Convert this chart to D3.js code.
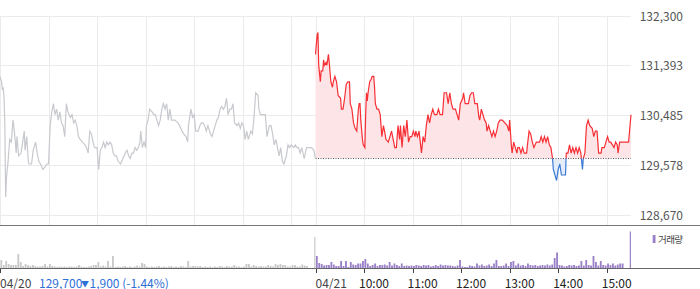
<!DOCTYPE html>
<html>
<head>
<meta charset="utf-8">
<script src="https://cdn.jsdelivr.net/npm/d3@7"></script>
<style>
  body { margin: 0; background: #fff; }
  svg { display: block; font-family: "Noto Sans CJK KR", "Noto Sans", sans-serif; }
</style>
</head>
<body>
<div id="chart"></div>
<script>
// minutes after 09:00 for each day, and prices
const prevTimes = [
  0, 2, 3, 4, 5, 6, 7, 8, 10, 12,
  14, 16, 17, 19, 20, 21, 23, 26, 28, 30,
  31, 33, 35, 36, 39, 41, 43, 44, 46, 48,
  50, 53, 56, 58, 60, 62, 64, 66, 68, 70,
  72, 74, 76, 78, 80, 82, 84, 87, 89, 91,
  93, 95, 97, 99, 102, 105, 107, 109, 111, 113,
  115, 117, 120, 122, 124, 126, 128, 130, 132, 134,
  136, 138, 140, 142, 144, 146, 149, 152, 155, 157,
  159, 161, 163, 165, 167, 169, 171, 173, 174, 176,
  178, 180, 181, 183, 185, 188, 190, 192, 194, 196,
  198, 200, 202, 204, 206, 208, 210, 212, 216, 220,
  222, 225, 227, 230, 232, 233, 235, 236, 238, 240,
  242, 245, 247, 249, 251, 253, 255, 257, 260, 262,
  264, 266, 268, 270, 272, 274, 276, 278, 280, 282,
  284, 286, 288, 290, 293, 295, 297, 299, 301, 303,
  305, 307, 310, 312, 314, 316, 319, 320, 322, 325,
  328, 330, 333, 335, 337, 339, 341, 343, 345, 347,
  349, 351, 354, 356, 358, 360, 363, 365, 367, 369,
  371, 373, 376, 379, 385, 388, 390,
];
const prevPrices = [
  131200, 131100, 130950, 131000, 130800, 130300, 129000, 129350, 129650, 130050,
  130000, 130400, 130300, 130000, 129800, 130100, 129750, 129800, 130000, 130200,
  129850, 130100, 129650, 129600, 129600, 129850, 129950, 130000, 129800, 129650,
  129600, 129500, 129550, 129600, 129600, 130300, 130550, 130700, 130500, 130600,
  130400, 130550, 130350, 130300, 130100, 130700, 130550, 130450, 130500, 130350,
  130400, 130300, 130100, 130050, 130000, 129950, 129900, 129800, 130200, 130150,
  130000, 129900, 129900, 129500, 129850, 129900, 130000, 129900, 130000, 129950,
  130000, 129950, 129800, 129750, 129750, 129650, 129600, 129700, 129800, 129850,
  129750, 129700, 129800, 129800, 129900, 129850, 129900, 130000, 130200, 129900,
  130000, 129900, 130300, 130400, 130600, 130550, 130500, 130500, 130400, 130300,
  130400, 130600, 130700, 130600, 130700, 130400, 130600, 130400, 130400, 130350,
  130300, 130200, 130150, 130100, 130000, 130300, 130500, 130600, 130450, 130500,
  130200, 130200, 130300, 130350, 130350, 130300, 130200, 130300, 130150, 130100,
  130200, 130300, 130400, 130450, 130600, 130650, 130600, 130650, 130800, 130500,
  130600, 130600, 130700, 130350, 130300, 130350, 130250, 130350, 130300, 130050,
  130200, 130050, 130200, 130150, 130450, 130900, 130850, 130600, 130500, 130500,
  130500, 130100, 130300, 130300, 130150, 129950, 130050, 129900, 129750, 129900,
  129650, 129600, 129750, 129950, 129900, 129950, 129900, 129950, 129900, 129900,
  129800, 129900, 129700, 129900, 129900, 129850, 129700,
];
const todayTimes = [
  0, 2, 3, 4, 6, 7, 9, 10, 11, 13,
  14, 16, 17, 19, 21, 22, 24, 26, 28, 31,
  32, 34, 36, 38, 40, 42, 43, 45, 47, 49,
  51, 53, 54, 55, 56, 58, 59, 61, 62, 63,
  64, 65, 67, 69, 70, 72, 73, 74, 76, 78,
  80, 81, 82, 84, 86, 87, 90, 92, 94, 96,
  98, 100, 102, 104, 105, 107, 109, 111, 113, 115,
  117, 119, 121, 123, 124, 126, 128, 131, 133, 135,
  137, 139, 141, 143, 145, 147, 150, 152, 154, 157,
  159, 162, 164, 166, 168, 170, 173, 175, 177, 179,
  182, 183, 185, 186, 189, 191, 193, 195, 197, 200,
  202, 203, 205, 207, 209, 211, 212, 214, 216, 218,
  220, 222, 224, 226, 228, 231, 234, 237, 239, 240,
  242, 243, 245, 247, 249, 250, 252, 254, 256, 258,
  261, 262, 264, 266, 268, 270, 273, 275, 277, 279,
  281, 283, 285, 287, 289, 291, 293, 294, 296, 298,
  300, 302, 304, 306, 309, 310, 312, 314, 316, 318,
  320, 322, 324, 326, 328, 330, 331, 333, 335, 337,
  339, 342, 344, 346, 348, 350, 353, 354, 357, 359,
  361, 363, 365, 367, 369, 371, 373, 374, 376, 379,
  387, 390,
];
const todayPrices = [
  131600, 131950, 132000, 131400, 131100, 131300, 131300, 131500, 131400, 131450,
  131400, 131600, 131450, 131100, 131000, 131100, 131200, 131100, 130850, 130800,
  130600, 130600, 130800, 131050, 131100, 131100, 130700, 130600, 130350, 130250,
  130200, 130600, 130700, 130700, 130400, 130050, 129950, 129900, 130500, 130900,
  130750, 130900, 131100, 131150, 131200, 131200, 131000, 130700, 130600, 130600,
  130500, 130300, 130100, 130300, 130150, 130050, 130000, 130100, 130200, 130050,
  129900, 129900, 130300, 130050, 130300, 129900, 130300, 130100, 130400, 130000,
  130100, 130100, 130200, 130100, 130200, 130100, 130200, 129800, 130100, 130000,
  130300, 130500, 130350, 130500, 130600, 130500, 130500, 130600, 130500, 130500,
  130900, 130900, 130700, 130900, 130700, 130600, 130600, 130500, 130400, 130700,
  130800, 130900, 130700, 130700, 130700, 130850, 130900, 130900, 130700, 130700,
  130450, 130400, 130600, 130500, 130400, 130350, 130200, 130300, 130200, 130100,
  130200, 130100, 130200, 130350, 130400, 130400, 130350, 130300, 130200, 130400,
  129950, 129800, 130000, 129900, 129800, 129900, 129900, 129800, 129900, 129800,
  129800, 129950, 130200, 130150, 130000, 129900, 130000, 130000, 130000, 130100,
  130000, 130100, 130000, 130100, 129950, 129900, 129700, 129500, 129400, 129300,
  129500, 129600, 129400, 129400, 129400, 129800, 129800, 129950, 129800, 129900,
  129800, 129900, 129800, 129900, 129800, 129500, 129700, 129800, 130300, 130400,
  130300, 130250, 130100, 130200, 130200, 129800, 129800, 129900, 129900, 130000,
  130100, 130000, 130000, 129950, 129900, 130000, 129950, 129800, 130000, 130000,
  130000, 130500,
];

// volume per 3-minute bucket, 09:00-15:20, plus the closing auction of each day
const prevVolumes = [
  800, 300, 700, 400, 300, 300, 300, 1400, 600, 200,
  400, 300, 200, 300, 200, 150, 150, 200, 400, 150,
  400, 200, 150, 100, 150, 100, 150, 100, 150, 150,
  100, 150, 300, 150, 100, 100, 150, 200, 300, 300,
  600, 150, 250, 150, 700, 150, 1200, 100, 150, 100,
  150, 200, 100, 150, 100, 150, 250, 150, 500, 400,
  150, 100, 150, 100, 150, 200, 100, 150, 100, 150,
  200, 100, 150, 100, 200, 150, 100, 700, 150, 200,
  200, 150, 200, 100, 150, 100, 150, 100, 150, 100,
  200, 150, 100, 200, 150, 150, 300, 150, 150, 100,
  150, 400, 400, 150, 300, 200, 150, 200, 150, 150,
  300, 200, 150, 400, 300, 400, 300, 300, 150, 150,
  300, 300, 150, 150, 350, 250, 200,
];
const todayVolumes = [
  1200, 500, 400, 250, 300, 300, 600, 350, 200, 200,
  700, 200, 700, 100, 600, 350, 300, 450, 450, 700,
  900, 450, 200, 300, 450, 200, 300, 300, 350, 250,
  600, 250, 450, 300, 200, 450, 200, 250, 200, 250,
  200, 300, 250, 200, 300, 250, 300, 150, 200, 300,
  200, 350, 250, 300, 250, 250, 200, 150, 250, 800,
  150, 100, 100, 250, 200, 150, 450, 250, 350, 200,
  250, 350, 200, 450, 800, 200, 200, 250, 450, 200,
  600, 700, 250, 450, 250, 300, 200, 450, 300, 250,
  300, 200, 250, 300, 250, 350, 250, 350, 1000, 1550,
  300, 250, 150, 200, 300, 250, 300, 200, 250, 700,
  250, 800, 300, 250, 1200, 600, 250, 700, 300, 250,
  450, 300, 450, 250, 350, 450, 450,
];
const closeVolumes = [3100, 3650];

const priceTicks = [128670, 129578, 130485, 131393, 132300];
const dayLabels = ["04/20", "04/21"];
const hourLabels = ["10:00", "11:00", "12:00", "13:00", "14:00", "15:00"];
const prevClose = 129700;
const change = -1900;
const changePct = -1.44;
const volumeLabel = "거래량";

if (prevTimes.length !== prevPrices.length || todayTimes.length !== todayPrices.length) {
  throw new Error("series length mismatch " + prevTimes.length + "/" + prevPrices.length +
    " " + todayTimes.length + "/" + todayPrices.length);
}

const width = 700;
const height = 289;
const plotRight = 631;
const dayLen = 390;
const bucket = 3;

const svg = d3.select("#chart").append("svg")
  .attr("width", width)
  .attr("height", height);

const x = d3.scaleLinear().domain([0, dayLen * 2]).range([0, plotRight]);
const y = d3.scaleLinear().domain([128670, 132300]).range([215, 16]);
const yVol = d3.scaleLinear().domain([0, 3650]).range([268, 231.5]);

const px = (v) => Math.round(v) + 0.5;

// grid
const gridMinutes = d3.range(0, 361, 60).concat(d3.range(dayLen, dayLen + 361, 60));
svg.append("g").selectAll("line.v").data(gridMinutes).join("line")
  .attr("x1", (d) => px(x(d))).attr("x2", (d) => px(x(d)))
  .attr("y1", y(132300)).attr("y2", 226)
  .attr("stroke", "#ebebeb");
svg.append("g").selectAll("line.h").data(priceTicks).join("line")
  .attr("x1", 0).attr("x2", plotRight)
  .attr("y1", (d) => px(y(d) - 0.5)).attr("y2", (d) => px(y(d) - 0.5))
  .attr("stroke", "#ebebeb");

// price labels
svg.append("g").selectAll("text").data(priceTicks).join("text")
  .attr("x", 683)
  .attr("y", (d) => y(d) + 4.5)
  .attr("text-anchor", "end")
  .attr("font-size", 12)
  .attr("fill", "#555")
  .text((d) => d3.format(",")(d));

const prevData = prevTimes.map((t, i) => ({ t: t, p: prevPrices[i] }));
const todayData = todayTimes.map((t, i) => ({ t: t + dayLen, p: todayPrices[i] }));
const baseY = y(prevClose);

const line = d3.line().x((d) => x(d.t)).y((d) => y(d.p));
const area = d3.area().x((d) => x(d.t)).y0(baseY).y1((d) => y(d.p));

const defs = svg.append("defs");
defs.append("clipPath").attr("id", "above").append("rect")
  .attr("x", 0).attr("y", 0).attr("width", width).attr("height", baseY);
defs.append("clipPath").attr("id", "below").append("rect")
  .attr("x", 0).attr("y", baseY).attr("width", width).attr("height", height - baseY);

svg.append("path").datum(todayData).attr("d", area)
  .attr("fill", "#fde5e7").attr("clip-path", "url(#above)");
svg.append("path").datum(todayData).attr("d", area)
  .attr("fill", "#e4edf9").attr("clip-path", "url(#below)");

svg.append("line")
  .attr("x1", x(dayLen)).attr("x2", plotRight)
  .attr("y1", baseY).attr("y2", baseY)
  .attr("stroke", "#555").attr("stroke-width", 1)
  .attr("stroke-dasharray", "1,1.5");

svg.append("path").datum(prevData).attr("d", line)
  .attr("fill", "none").attr("stroke", "#c7c9ce").attr("stroke-width", 1.2);
svg.append("path").datum(todayData).attr("d", line)
  .attr("fill", "none").attr("stroke", "#f72f35").attr("stroke-width", 1.2)
  .attr("clip-path", "url(#above)");
svg.append("path").datum(todayData).attr("d", line)
  .attr("fill", "none").attr("stroke", "#3a79d6").attr("stroke-width", 1.2)
  .attr("clip-path", "url(#below)");

// volume bars
const volData = prevVolumes.map((v, i) => ({ t: i * bucket, v: v, day: 0 }))
  .concat(todayVolumes.map((v, i) => ({ t: dayLen + i * bucket, v: v, day: 1 })));
const barW = x(bucket) - x(0) - 0.6;
svg.append("g").selectAll("rect").data(volData).join("rect")
  .attr("x", (d) => x(d.t) + 0.4)
  .attr("width", barW)
  .attr("y", (d) => yVol(d.v))
  .attr("height", (d) => yVol(0) - yVol(d.v))
  .attr("fill", (d) => (d.day === 0 ? "#c8c8c8" : "#9a80c9"));
svg.append("g").selectAll("rect").data(closeVolumes).join("rect")
  .attr("x", (d, i) => x(dayLen * (i + 1) - 0.8) - 0.6)
  .attr("width", 1.2)
  .attr("y", (d) => yVol(d))
  .attr("height", (d) => yVol(0) - yVol(d))
  .attr("fill", (d, i) => (i === 0 ? "#c8c8c8" : "#9a80c9"));

// axis lines
svg.append("line").attr("x1", 0).attr("x2", width).attr("y1", 225.5).attr("y2", 225.5)
  .attr("stroke", "#777");
svg.append("line").attr("x1", 0).attr("x2", width).attr("y1", 268.5).attr("y2", 268.5)
  .attr("stroke", "#666");

// bottom ticks and labels
const tickMinutes = [0, dayLen].concat(d3.range(dayLen + 60, dayLen + 361, 60));
svg.append("g").selectAll("line").data(tickMinutes).join("line")
  .attr("x1", (d) => px(x(d))).attr("x2", (d) => px(x(d)))
  .attr("y1", 269).attr("y2", 273)
  .attr("stroke", "#444");

svg.append("g").selectAll("text").data(dayLabels).join("text")
  .attr("x", (d, i) => x(i * dayLen))
  .attr("y", 287.5)
  .attr("font-size", 12)
  .attr("fill", "#444")
  .text((d) => d);
svg.append("g").selectAll("text").data(hourLabels).join("text")
  .attr("x", (d, i) => x(dayLen + 60 * (i + 1)) - 5)
  .attr("y", 287.5)
  .attr("font-size", 12)
  .attr("fill", "#222")
  .text((d) => d);

const info = svg.append("text").attr("y", 287.5).attr("font-size", 12).attr("fill", "#2f6fd6");
info.append("tspan").attr("x", 39).text(d3.format(",")(prevClose));
info.append("tspan").attr("x", 81).attr("font-size", 8).attr("dy", -1).text("▼");
info.append("tspan").attr("x", 89.5).attr("dy", 1)
  .text(d3.format(",")(Math.abs(change)) + " (" + changePct.toFixed(2) + "%)");

// legend
svg.append("rect").attr("x", 652.7).attr("y", 235).attr("width", 2.8).attr("height", 8)
  .attr("fill", "#9a80c9");
svg.append("text").attr("x", 658).attr("y", 242.5)
  .attr("font-size", 9.5).attr("fill", "#444").attr("letter-spacing", -0.6)
  .text(volumeLabel);
</script>
</body>
</html>
